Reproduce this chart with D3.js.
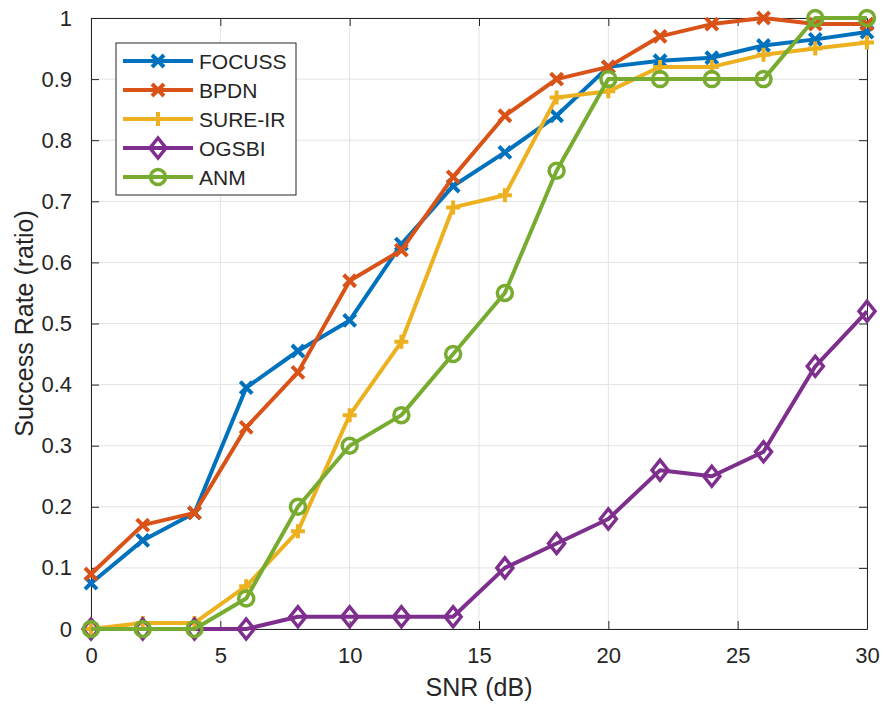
<!DOCTYPE html>
<html>
<head>
<meta charset="utf-8">
<title>Success rate vs SNR</title>
<script src="https://cdn.jsdelivr.net/npm/d3@7/dist/d3.min.js"></script>
<style>
  body { margin: 0; background: #fff; }
  text { font-family: "Liberation Sans", Arial, Helvetica, sans-serif; fill: #262626; }
</style>
</head>
<body>
<script>
// data
var snr = [0, 2, 4, 6, 8, 10, 12, 14, 16, 18, 20, 22, 24, 26, 28, 30];
var focuss = [0.075, 0.145, 0.19, 0.395, 0.455, 0.505, 0.63, 0.725, 0.78, 0.84, 0.92, 0.93, 0.935, 0.955, 0.965, 0.977];
var bpdn   = [0.09, 0.17, 0.19, 0.33, 0.42, 0.57, 0.62, 0.74, 0.84, 0.90, 0.92, 0.97, 0.99, 1.0, 0.99, 0.99];
var sureir = [0.0, 0.01, 0.01, 0.07, 0.16, 0.35, 0.47, 0.69, 0.71, 0.87, 0.88, 0.92, 0.92, 0.94, 0.95, 0.96];
var ogsbi  = [0.0, 0.0, 0.0, 0.0, 0.02, 0.02, 0.02, 0.02, 0.10, 0.14, 0.18, 0.26, 0.25, 0.29, 0.43, 0.52];
var anm    = [0.0, 0.0, 0.0, 0.05, 0.20, 0.30, 0.35, 0.45, 0.55, 0.75, 0.90, 0.90, 0.90, 0.90, 1.0, 1.0];

var seriesNames = ["FOCUSS", "BPDN", "SURE-IR", "OGSBI", "ANM"];
var seriesValues = [focuss, bpdn, sureir, ogsbi, anm];
var seriesColors = ["#0072BD", "#D95319", "#EDB120", "#7E2F8E", "#77AC30"];
var seriesMarkers = ["x", "x", "plus", "diamond", "circle"];

var xTicks = [0, 5, 10, 15, 20, 25, 30];
var yTicks = [0, 0.1, 0.2, 0.3, 0.4, 0.5, 0.6, 0.7, 0.8, 0.9, 1];

var w = 885, h = 705;
var pLeft = 91, pRight = 867, pTop = 18, pBottom = 629;

var svg = d3.select("body").append("svg")
    .attr("width", w)
    .attr("height", h);

var x = d3.scaleLinear().domain([0, 30]).range([pLeft, pRight]);
var y = d3.scaleLinear().domain([0, 1]).range([pBottom, pTop]);

// grid
svg.append("g").selectAll("line").data(xTicks).enter().append("line")
    .attr("x1", d => x(d)).attr("x2", d => x(d))
    .attr("y1", pTop).attr("y2", pBottom)
    .attr("stroke", "#e3e3e3").attr("stroke-width", 1);
svg.append("g").selectAll("line").data(yTicks).enter().append("line")
    .attr("x1", pLeft).attr("x2", pRight)
    .attr("y1", d => y(d)).attr("y2", d => y(d))
    .attr("stroke", "#e3e3e3").attr("stroke-width", 1);

// axes (ticks inward, box on)
function fmt(d) { return d3.format("~g")(d); }
var axB = svg.append("g").attr("transform", "translate(0," + pBottom + ")")
    .call(d3.axisBottom(x).tickValues(xTicks).tickSizeInner(-8).tickSizeOuter(0).tickPadding(18).tickFormat(fmt));
var axT = svg.append("g").attr("transform", "translate(0," + pTop + ")")
    .call(d3.axisTop(x).tickValues(xTicks).tickSizeInner(-8).tickSizeOuter(0).tickFormat(""));
var axL = svg.append("g").attr("transform", "translate(" + pLeft + ",0)")
    .call(d3.axisLeft(y).tickValues(yTicks).tickSizeInner(-8).tickSizeOuter(0).tickPadding(19).tickFormat(fmt));
var axR = svg.append("g").attr("transform", "translate(" + pRight + ",0)")
    .call(d3.axisRight(y).tickValues(yTicks).tickSizeInner(-8).tickSizeOuter(0).tickFormat(""));

[axB, axT, axL, axR].forEach(function (g) {
    g.select(".domain").attr("stroke", "#262626").attr("stroke-width", 1);
    g.selectAll(".tick line").attr("stroke", "#262626");
    g.selectAll("text").attr("font-size", "22px").attr("fill", "#262626")
        .style("font-family", '"Liberation Sans", Arial, sans-serif');
});

// markers
function drawMarker(g, type, color, cx, cy) {
    if (type === "x") {
        var s = 6;
        g.append("path")
            .attr("d", "M" + (cx - s) + "," + (cy - s) + "L" + (cx + s) + "," + (cy + s) +
                       "M" + (cx - s) + "," + (cy + s) + "L" + (cx + s) + "," + (cy - s))
            .attr("stroke", color).attr("stroke-width", 4).attr("fill", "none");
    } else if (type === "plus") {
        var p = 7;
        g.append("path")
            .attr("d", "M" + (cx - p) + "," + cy + "L" + (cx + p) + "," + cy +
                       "M" + cx + "," + (cy - p) + "L" + cx + "," + (cy + p))
            .attr("stroke", color).attr("stroke-width", 4).attr("fill", "none");
    } else if (type === "diamond") {
        var dw = 8, dh = 10;
        g.append("path")
            .attr("d", "M" + cx + "," + (cy - dh) + "L" + (cx + dw) + "," + cy +
                       "L" + cx + "," + (cy + dh) + "L" + (cx - dw) + "," + cy + "Z")
            .attr("stroke", color).attr("stroke-width", 3.5).attr("fill", "none");
    } else {
        g.append("circle").attr("cx", cx).attr("cy", cy).attr("r", 7.5)
            .attr("stroke", color).attr("stroke-width", 3.5).attr("fill", "none");
    }
}

var line = d3.line()
    .x(function (d, i) { return x(snr[i]); })
    .y(function (d) { return y(d); });

seriesValues.forEach(function (vals, k) {
    var g = svg.append("g");
    g.append("path").datum(vals)
        .attr("d", line)
        .attr("fill", "none")
        .attr("stroke", seriesColors[k])
        .attr("stroke-width", 4)
        .attr("stroke-linejoin", "round");
    vals.forEach(function (v, i) {
        drawMarker(g, seriesMarkers[k], seriesColors[k], x(snr[i]), y(v));
    });
});

// axis labels
svg.append("text")
    .attr("x", (pLeft + pRight) / 2).attr("y", 696)
    .attr("text-anchor", "middle")
    .attr("font-size", "25px")
    .text("SNR (dB)");
svg.append("text")
    .attr("transform", "translate(33," + ((pTop + pBottom) / 2) + ") rotate(-90)")
    .attr("text-anchor", "middle")
    .attr("font-size", "25px")
    .text("Success Rate (ratio)");

// legend
var lg = svg.append("g");
lg.append("rect")
    .attr("x", 116).attr("y", 43).attr("width", 180).attr("height", 152)
    .attr("fill", "#fff").attr("stroke", "#262626").attr("stroke-width", 1);
seriesNames.forEach(function (name, k) {
    var ly = 61 + k * 29;
    lg.append("line")
        .attr("x1", 123).attr("x2", 193).attr("y1", ly).attr("y2", ly)
        .attr("stroke", seriesColors[k]).attr("stroke-width", 4);
    drawMarker(lg, seriesMarkers[k], seriesColors[k], 158, ly);
    lg.append("text")
        .attr("x", 199).attr("y", ly + 8)
        .attr("font-size", "21px")
        .text(name);
});
</script>
</body>
</html>
